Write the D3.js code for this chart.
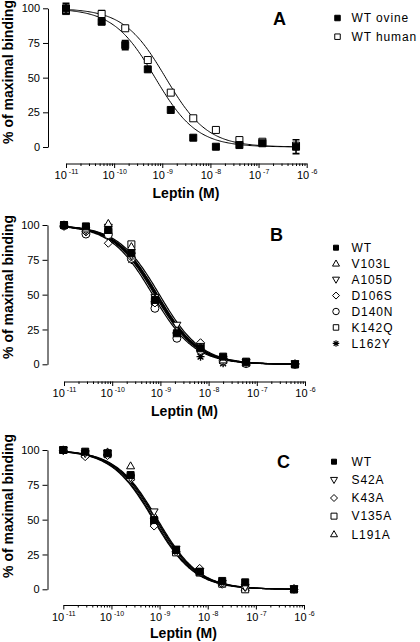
<!DOCTYPE html>
<html><head><meta charset="utf-8">
<script src="https://cdn.jsdelivr.net/npm/d3@7"></script>
<style>html,body{margin:0;padding:0;background:#fff}svg{display:block}</style>
</head><body>
<svg id="chart" width="420" height="642"></svg>
<script>
// ---------------- DATA ----------------
// Panel A
const concA = [1e-11, 5.5e-11, 1.7e-10, 5e-10, 1.5e-9, 4.4e-9, 1.3e-8, 4e-8, 1.2e-7, 6e-7];
const namesA = ["WT ovine", "WT human"];
const ovine = [100, 90.3, 73.5, 56, 26.7, 6.7, 0.2, 1.4, 2.7, 0.2];
const ovineErr = [3.6, 1.5, 3.3, 0, 0, 0, 0, 0, 0, 5];
const human = [98, 95.9, 85.6, 62.7, 39.2, 20.7, 12.3, 5.0, 3.8, 1.0];
const humanErr = [0, 2.5, 0, 0, 0, 0, 0, 0, 0, 0];
const logIC50A = [-9.15, -8.93];

// Panels B and C share concentrations
const concBC = [1e-11, 2.85e-11, 8.3e-11, 2.5e-10, 7.7e-10, 2.2e-9, 6.8e-9, 2e-8, 6e-8, 6.2e-7];

// Panel B
const namesB = ["WT", "V103L", "A105D", "D106S", "D140N", "K142Q", "L162Y"];
const wtB   = [100, 99.0, 96.4, 79.7, 46.2, 22.3, 11.5, 5.5, 1.9, 0];
const v103l = [100, 97.0, 101.0, 84.4, 47.0, 24.0, 12.0, 3.0, 1.0, 0];
const a105d = [99.5, 96.0, 98.5, 78.0, 48.0, 28.2, 13.0, 3.5, 1.5, 0.5];
const d106s = [99.0, 95.0, 86.9, 77.0, 44.0, 23.0, 15.5, 4.0, 1.5, 0.5];
const d140n = [99.5, 93.5, 93.0, 76.0, 40.2, 18.7, 10.0, 2.5, 0.5, 0];
const k142q = [100, 97.0, 95.0, 86.1, 45.0, 21.0, 12.5, 4.0, 1.0, 0];
const l162y = [100, 96.0, 94.0, 74.9, 44.0, 21.0, 5.5, 0.7, 0.5, 0];
const logIC50B = [-9.12, -9.07, -9.02, -9.06, -9.16, -9.09, -9.10];

// Panel C
const namesC = ["WT", "S42A", "K43A", "V135A", "L191A"];
const wtC   = [100, 98.8, 97.6, 82.0, 49.7, 28.2, 12.6, 6.0, 5.0, 0];
const s42a  = [100, 97.5, 98.0, 80.0, 55.7, 29.0, 13.0, 4.5, 1.5, 0.5];
const k43a  = [99.5, 95.2, 96.0, 79.0, 45.4, 27.0, 15.0, 3.6, 1.5, 0];
const v135a = [100, 97.0, 97.0, 80.5, 48.5, 26.5, 12.0, 4.0, 0, 0];
const l191a = [100, 98.0, 98.5, 88.5, 53.0, 28.0, 13.5, 5.0, 1.0, 0.5];
const logIC50C = [-9.08, -9.04, -9.11, -9.13, -9.06];

const yTicks = [0, 25, 50, 75, 100];
const xDecades = [-11, -10, -9, -8, -7, -6];
const fitTop = 100, fitBottom = 0, hillSlope = 1;

// ---------------- DRAWING ----------------
const svg = d3.select("#chart");
const FONT = "'Liberation Sans', Arial, Helvetica, sans-serif";

function shapePath(type, s) {
  const h = s / 2;
  switch (type) {
    case "square": return `M${-h},${-h}H${h}V${h}H${-h}Z`;
    case "triUp": { const t = s * 0.87; return `M0,${-t * 0.6}L${h},${t * 0.4}L${-h},${t * 0.4}Z`; }
    case "triDown": { const t = s * 0.87; return `M0,${t * 0.6}L${h},${-t * 0.4}L${-h},${-t * 0.4}Z`; }
    case "diamond": return `M0,${-h}L${h},0L0,${h}L${-h},0Z`;
    case "circle": return `M${h},0A${h},${h} 0 1,1 ${-h},0A${h},${h} 0 1,1 ${h},0Z`;
    case "star": {
      const d = h * 0.72;
      return `M0,${-h}V${h}M${-h},0H${h}M${-d},${-d}L${d},${d}M${-d},${d}L${d},${-d}`;
    }
  }
}
function styleMarker(sel, type, filled) {
  if (type === "star") {
    sel.attr("fill", "none").attr("stroke", "#000").attr("stroke-width", 1.4);
  } else {
    sel.attr("fill", filled ? "#000" : "#fff").attr("stroke", "#000").attr("stroke-width", 1);
  }
}

function drawPanel(cfg) {
  const g = svg.append("g");
  const x = d3.scaleLog().domain([1e-11, 1e-6]).range(cfg.xRange);
  const y = d3.scaleLinear().domain([0, 100]).range(cfg.yRange);

  // Y axis
  const ya = g.append("g").attr("transform", `translate(${cfg.yAxisX},0)`)
    .call(d3.axisLeft(y).tickValues(yTicks).tickSize(5).tickPadding(3).tickSizeOuter(0));
  ya.selectAll("path,line").attr("stroke", "#000").attr("stroke-width", 1);
  ya.selectAll("text").attr("font-family", FONT).attr("font-size", 11).attr("fill", "#000");

  // X axis: minor ticks
  const minor = [];
  for (let k = -11; k < -6; k++) for (let m = 2; m <= 9; m++) minor.push(m * Math.pow(10, k));
  const xm = g.append("g").attr("transform", `translate(0,${cfg.xAxisY})`)
    .call(d3.axisBottom(x).tickValues(minor).tickSize(2.5).tickSizeOuter(0).tickFormat(""));
  xm.selectAll("path,line").attr("stroke", "#000").attr("stroke-width", 1);
  // major ticks with labels
  const xa = g.append("g").attr("transform", `translate(0,${cfg.xAxisY})`)
    .call(d3.axisBottom(x).tickValues(xDecades.map(e => Math.pow(10, e))).tickSize(4.5).tickSizeOuter(0).tickPadding(4).tickFormat(""));
  xa.select("path").remove();
  xa.selectAll("line").attr("stroke", "#000").attr("stroke-width", 1);
  xa.selectAll(".tick").each(function (d) {
    const t = d3.select(this).select("text");
    t.text(null).attr("font-family", FONT).attr("fill", "#000").attr("dy", null).attr("y", 15.5)
      .attr("text-anchor", "middle");
    t.append("tspan").attr("font-size", 11).text("10");
    t.append("tspan").attr("font-size", 7).attr("dx", 2).attr("dy", -5)
      .text("-" + Math.round(-Math.log10(d)));
  });

  // Fitted curves
  const line = d3.line().x(d => x(d[0])).y(d => y(d[1]));
  const lastConc = cfg.conc[cfg.conc.length - 1];
  cfg.ic50.forEach(lic => {
    const pts = d3.range(0, 201).map(i => {
      const lx = -11 + (Math.log10(lastConc) + 11) * i / 200;
      return [Math.pow(10, lx), fitBottom + (fitTop - fitBottom) / (1 + Math.pow(10, (lx - lic) * hillSlope))];
    });
    g.append("path").attr("d", line(pts)).attr("fill", "none").attr("stroke", "#000")
      .attr("stroke-width", cfg.curveWidth);
  });

  // Data points (draw in reverse so first series on top)
  for (let si = cfg.series.length - 1; si >= 0; si--) {
    const vals = cfg.series[si], type = cfg.shapes[si], filled = cfg.filled[si];
    const errs = cfg.errs ? cfg.errs[si] : null;
    vals.forEach((v, i) => {
      const cx = x(cfg.conc[i]), cy = y(v);
      if (errs && errs[i] > 0) {
        const y1 = y(v - errs[i]), y2 = y(v + errs[i]);
        g.append("path").attr("d", `M${cx},${y1}V${y2}M${cx - 3.5},${y1}H${cx + 3.5}M${cx - 3.5},${y2}H${cx + 3.5}`)
          .attr("stroke", "#000").attr("stroke-width", 1.6).attr("fill", "none");
      }
      const p = g.append("path").attr("d", shapePath(type, cfg.sizes[si]))
        .attr("transform", `translate(${cx},${cy})`);
      styleMarker(p, type, filled);
    });
  }

  // Axis titles
  g.append("text").attr("x", cfg.xTitle[0]).attr("y", cfg.xTitle[1]).attr("text-anchor", "middle")
    .attr("font-family", FONT).attr("font-weight", "bold").attr("font-size", 14).text("Leptin (M)");
  g.append("text").attr("transform", `translate(13,${cfg.yTitleY}) rotate(-90)`).attr("text-anchor", "middle")
    .attr("font-family", FONT).attr("font-weight", "bold").attr("font-size", 14).text("% of maximal binding");

  // Panel letter
  g.append("text").attr("x", cfg.letterPos[0]).attr("y", cfg.letterPos[1])
    .attr("font-family", FONT).attr("font-weight", "bold").attr("font-size", 18).text(cfg.letter);

  // Legend
  cfg.names.forEach((n, i) => {
    const ly = cfg.legY0 + i * cfg.legDy;
    const p = g.append("path").attr("d", shapePath(cfg.shapes[i], cfg.legSizes[i]))
      .attr("transform", `translate(${cfg.legMarkX},${ly})`);
    styleMarker(p, cfg.shapes[i], cfg.filled[i]);
    if (cfg.shapes[i] === "star") p.attr("stroke-width", 1.1);
    g.append("text").attr("x", 351.5).attr("y", ly + 4.3).attr("font-family", FONT)
      .attr("font-size", 12).attr("letter-spacing", 0.9).text(n);
  });
}

drawPanel({
  conc: concA, series: [ovine, human], errs: [ovineErr, humanErr], names: namesA,
  shapes: ["square", "square"], filled: [true, false], sizes: [7, 7], legSizes: [5.5, 5.5],
  ic50: logIC50A, curveWidth: 1,
  xRange: [66, 306.7], yRange: [147, 8.3], yAxisX: 48, xAxisY: 163.5,
  xTitle: [186, 198], yTitleY: 72, letter: "A", letterPos: [273, 24.5],
  legMarkX: 337.5, legY0: 18, legDy: 18.7
});

drawPanel({
  conc: concBC, series: [wtB, v103l, a105d, d106s, d140n, k142q, l162y], names: namesB,
  shapes: ["square", "triUp", "triDown", "diamond", "circle", "square", "star"],
  filled: [true, false, false, false, false, false, false],
  sizes: [7, 8, 8, 8, 8, 7, 8], legSizes: [5, 7, 7, 7, 6.5, 5.5, 6.5],
  ic50: logIC50B, curveWidth: 1.2,
  xRange: [64, 305], yRange: [364.3, 225], yAxisX: 47.5, xAxisY: 381.5,
  xTitle: [184.5, 416], yTitleY: 287, letter: "B", letterPos: [270, 240.5],
  legMarkX: 336, legY0: 247.7, legDy: 15.95
});

drawPanel({
  conc: concBC, series: [wtC, s42a, k43a, v135a, l191a], names: namesC,
  shapes: ["square", "triDown", "diamond", "square", "triUp"],
  filled: [true, false, false, false, false],
  sizes: [7, 8, 8, 7, 8], legSizes: [5, 7, 7, 6, 7],
  ic50: logIC50C, curveWidth: 1.2,
  xRange: [63.3, 304], yRange: [589.3, 450], yAxisX: 47.5, xAxisY: 605,
  xTitle: [183.5, 638], yTitleY: 506, letter: "C", letterPos: [277, 467.5],
  legMarkX: 334, legY0: 461.7, legDy: 18.15
});
</script>
</body></html>
